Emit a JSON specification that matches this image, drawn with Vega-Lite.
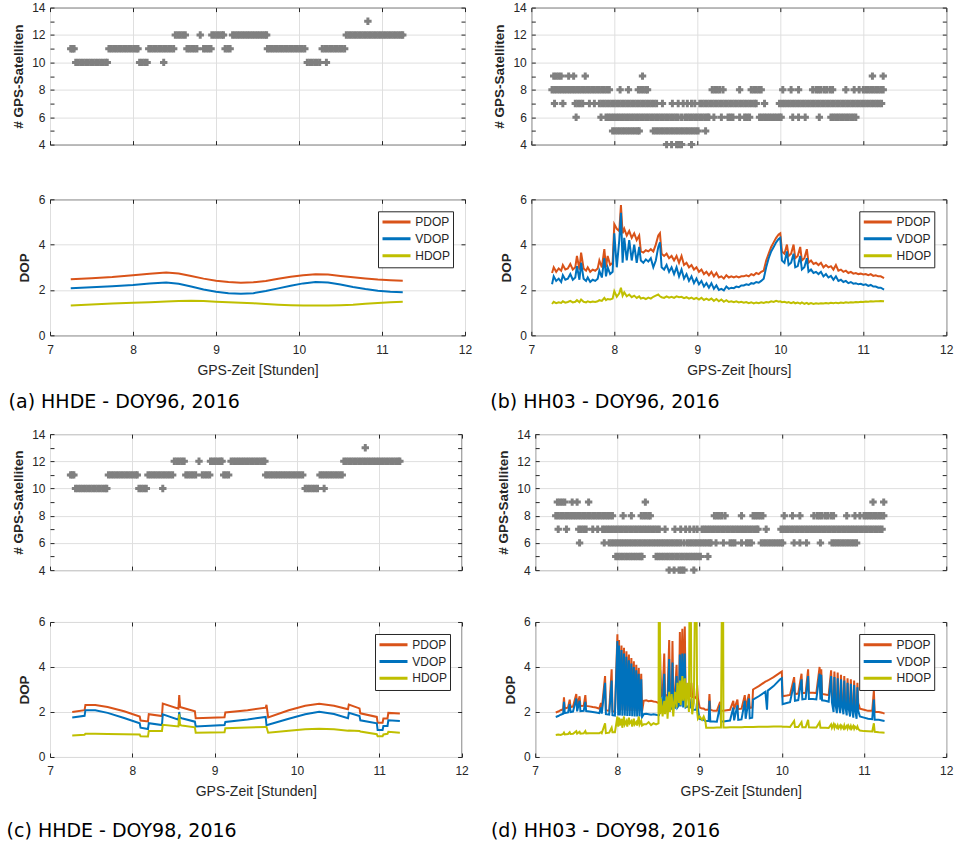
{
"$schema": "https://vega.github.io/schema/vega-lite/v6.json",
"padding": {"left": 6, "top": 0.6, "right": 4, "bottom": 4},
"background": "white",
"config": {
  "font": "Liberation Sans",
  "view": {"stroke": "#262626", "strokeWidth": 1},
  "axis": {"domain": false, "grid": true, "gridColor": "#dfdfdf", "gridWidth": 1, "ticks": true, "tickColor": "#262626", "tickSize": -4, "tickWidth": 1, "labelFont": "Liberation Sans", "labelFontSize": 12, "labelColor": "#262626", "labelFlush": false, "labelOverlap": false, "labelBound": false, "titleFont": "Liberation Sans", "titleColor": "#262626"},
  "axisX": {"labelPadding": 13, "titleFontSize": 14, "titleFontWeight": "normal", "titlePadding": 8},
  "axisY": {"labelPadding": 9, "titleFontSize": 13.5, "titleFontWeight": "bold", "titlePadding": 6.5},
  "legend": {"orient": "top-right", "offset": 12, "title": null, "strokeColor": "#262626", "fillColor": "white", "padding": 3, "cornerRadius": 0, "symbolType": "stroke", "symbolStrokeWidth": 3, "symbolSize": 784, "clipHeight": 15.5, "rowPadding": 0.8, "labelFont": "Liberation Sans", "labelFontSize": 12, "labelColor": "#262626", "labelOffset": 3.3},
  "title": {"font": "DejaVu Sans", "fontSize": 19, "fontWeight": "normal", "color": "#000000", "orient": "bottom", "anchor": "start", "frame": "group"}
},
"datasets": {
"satA": [
{"t":7.25,"n":11},{"t":7.27,"n":11},{"t":7.29,"n":11},
{"t":7.31,"n":10},{"t":7.34,"n":10},{"t":7.37,"n":10},{"t":7.40,"n":10},{"t":7.43,"n":10},{"t":7.46,"n":10},{"t":7.49,"n":10},{"t":7.52,"n":10},{"t":7.55,"n":10},{"t":7.58,"n":10},{"t":7.61,"n":10},{"t":7.64,"n":10},{"t":7.67,"n":10},{"t":7.69,"n":10},
{"t":7.71,"n":11},{"t":7.74,"n":11},{"t":7.77,"n":11},{"t":7.80,"n":11},{"t":7.83,"n":11},{"t":7.86,"n":11},{"t":7.89,"n":11},{"t":7.92,"n":11},{"t":7.95,"n":11},{"t":7.98,"n":11},{"t":8.01,"n":11},{"t":8.04,"n":11},{"t":8.06,"n":11},
{"t":8.08,"n":10},{"t":8.11,"n":10},{"t":8.14,"n":10},{"t":8.17,"n":10},
{"t":8.19,"n":11},{"t":8.22,"n":11},{"t":8.25,"n":11},{"t":8.28,"n":11},{"t":8.31,"n":11},{"t":8.34,"n":11},{"t":8.37,"n":11},{"t":8.40,"n":11},{"t":8.43,"n":11},{"t":8.46,"n":11},{"t":8.49,"n":11},
{"t":8.37,"n":10},
{"t":8.51,"n":12},{"t":8.54,"n":12},{"t":8.57,"n":12},{"t":8.60,"n":12},{"t":8.63,"n":12},
{"t":8.65,"n":11},{"t":8.68,"n":11},{"t":8.71,"n":11},{"t":8.74,"n":11},{"t":8.77,"n":11},
{"t":8.81,"n":12},
{"t":8.85,"n":11},{"t":8.88,"n":11},{"t":8.91,"n":11},{"t":8.94,"n":11},
{"t":8.95,"n":12},{"t":8.98,"n":12},{"t":9.01,"n":12},{"t":9.04,"n":12},{"t":9.07,"n":12},{"t":9.09,"n":12},
{"t":9.11,"n":11},{"t":9.14,"n":11},{"t":9.17,"n":11},
{"t":9.20,"n":12},{"t":9.23,"n":12},{"t":9.26,"n":12},{"t":9.29,"n":12},{"t":9.32,"n":12},{"t":9.35,"n":12},{"t":9.38,"n":12},{"t":9.41,"n":12},{"t":9.44,"n":12},{"t":9.47,"n":12},{"t":9.50,"n":12},{"t":9.53,"n":12},{"t":9.56,"n":12},{"t":9.59,"n":12},{"t":9.61,"n":12},
{"t":9.62,"n":11},{"t":9.65,"n":11},{"t":9.68,"n":11},{"t":9.71,"n":11},{"t":9.74,"n":11},{"t":9.77,"n":11},{"t":9.80,"n":11},{"t":9.83,"n":11},{"t":9.86,"n":11},{"t":9.89,"n":11},{"t":9.92,"n":11},{"t":9.95,"n":11},{"t":9.98,"n":11},{"t":10.01,"n":11},{"t":10.04,"n":11},{"t":10.07,"n":11},
{"t":10.10,"n":10},{"t":10.13,"n":10},{"t":10.16,"n":10},{"t":10.19,"n":10},{"t":10.22,"n":10},{"t":10.25,"n":10},{"t":10.33,"n":10},
{"t":10.28,"n":11},{"t":10.31,"n":11},{"t":10.34,"n":11},{"t":10.37,"n":11},{"t":10.40,"n":11},{"t":10.43,"n":11},{"t":10.46,"n":11},{"t":10.49,"n":11},{"t":10.52,"n":11},{"t":10.55,"n":11},
{"t":10.57,"n":12},{"t":10.60,"n":12},{"t":10.63,"n":12},{"t":10.66,"n":12},{"t":10.69,"n":12},{"t":10.72,"n":12},{"t":10.75,"n":12},{"t":10.78,"n":12},{"t":10.81,"n":12},{"t":10.84,"n":12},{"t":10.87,"n":12},{"t":10.90,"n":12},{"t":10.93,"n":12},{"t":10.96,"n":12},{"t":10.99,"n":12},{"t":11.02,"n":12},{"t":11.05,"n":12},{"t":11.08,"n":12},{"t":11.11,"n":12},{"t":11.14,"n":12},{"t":11.17,"n":12},{"t":11.20,"n":12},{"t":11.23,"n":12},{"t":11.25,"n":12},
{"t":10.83,"n":13}
],
"satB": [
{"t":7.27,"n":9},{"t":7.30,"n":9},{"t":7.33,"n":9},{"t":7.36,"n":9},{"t":7.45,"n":9},{"t":7.51,"n":9},{"t":7.65,"n":9},{"t":8.34,"n":9},{"t":11.11,"n":9},{"t":11.24,"n":9},
{"t":7.25,"n":8},{"t":7.28,"n":8},{"t":7.31,"n":8},{"t":7.34,"n":8},{"t":7.37,"n":8},{"t":7.40,"n":8},{"t":7.43,"n":8},{"t":7.46,"n":8},{"t":7.49,"n":8},{"t":7.52,"n":8},{"t":7.55,"n":8},{"t":7.58,"n":8},{"t":7.61,"n":8},{"t":7.64,"n":8},{"t":7.67,"n":8},{"t":7.70,"n":8},{"t":7.73,"n":8},{"t":7.76,"n":8},{"t":7.79,"n":8},{"t":7.82,"n":8},{"t":7.85,"n":8},{"t":7.88,"n":8},{"t":7.91,"n":8},{"t":7.94,"n":8},
{"t":8.07,"n":8},{"t":8.17,"n":8},{"t":8.29,"n":8},{"t":8.32,"n":8},{"t":8.35,"n":8},{"t":8.38,"n":8},{"t":8.40,"n":8},
{"t":9.18,"n":8},{"t":9.21,"n":8},{"t":9.24,"n":8},{"t":9.27,"n":8},{"t":9.31,"n":8},{"t":9.51,"n":8},{"t":9.65,"n":8},{"t":9.68,"n":8},{"t":9.71,"n":8},{"t":9.74,"n":8},{"t":9.77,"n":8},
{"t":10.03,"n":8},{"t":10.13,"n":8},{"t":10.22,"n":8},{"t":10.39,"n":8},{"t":10.43,"n":8},{"t":10.46,"n":8},{"t":10.49,"n":8},{"t":10.53,"n":8},{"t":10.56,"n":8},{"t":10.60,"n":8},{"t":10.63,"n":8},{"t":10.79,"n":8},{"t":10.89,"n":8},{"t":10.95,"n":8},
{"t":11.00,"n":8},{"t":11.03,"n":8},{"t":11.06,"n":8},{"t":11.09,"n":8},{"t":11.12,"n":8},{"t":11.15,"n":8},{"t":11.18,"n":8},{"t":11.21,"n":8},{"t":11.24,"n":8},
{"t":7.28,"n":7},{"t":7.38,"n":7},{"t":7.53,"n":7},{"t":7.56,"n":7},{"t":7.59,"n":7},{"t":7.62,"n":7},{"t":7.70,"n":7},{"t":7.76,"n":7},
{"t":7.82,"n":7},{"t":7.85,"n":7},{"t":7.88,"n":7},{"t":7.91,"n":7},{"t":7.94,"n":7},{"t":7.97,"n":7},{"t":8.00,"n":7},{"t":8.03,"n":7},{"t":8.06,"n":7},{"t":8.09,"n":7},{"t":8.12,"n":7},{"t":8.15,"n":7},{"t":8.18,"n":7},{"t":8.21,"n":7},{"t":8.24,"n":7},{"t":8.27,"n":7},{"t":8.30,"n":7},{"t":8.33,"n":7},{"t":8.36,"n":7},{"t":8.39,"n":7},{"t":8.42,"n":7},{"t":8.45,"n":7},{"t":8.48,"n":7},{"t":8.51,"n":7},
{"t":8.58,"n":7},{"t":8.70,"n":7},{"t":8.77,"n":7},{"t":8.83,"n":7},{"t":8.88,"n":7},{"t":8.93,"n":7},{"t":8.97,"n":7},
{"t":9.03,"n":7},{"t":9.06,"n":7},{"t":9.09,"n":7},{"t":9.12,"n":7},{"t":9.15,"n":7},{"t":9.18,"n":7},{"t":9.21,"n":7},{"t":9.24,"n":7},{"t":9.27,"n":7},{"t":9.30,"n":7},{"t":9.33,"n":7},{"t":9.36,"n":7},{"t":9.39,"n":7},{"t":9.42,"n":7},{"t":9.45,"n":7},{"t":9.48,"n":7},{"t":9.51,"n":7},{"t":9.54,"n":7},{"t":9.57,"n":7},{"t":9.60,"n":7},{"t":9.63,"n":7},{"t":9.66,"n":7},{"t":9.69,"n":7},{"t":9.71,"n":7},{"t":9.81,"n":7},
{"t":9.99,"n":7},{"t":10.02,"n":7},{"t":10.05,"n":7},{"t":10.08,"n":7},{"t":10.11,"n":7},{"t":10.14,"n":7},{"t":10.17,"n":7},{"t":10.20,"n":7},{"t":10.23,"n":7},{"t":10.26,"n":7},{"t":10.29,"n":7},{"t":10.32,"n":7},{"t":10.35,"n":7},{"t":10.38,"n":7},{"t":10.41,"n":7},{"t":10.44,"n":7},{"t":10.47,"n":7},{"t":10.50,"n":7},{"t":10.53,"n":7},{"t":10.56,"n":7},{"t":10.59,"n":7},{"t":10.62,"n":7},{"t":10.65,"n":7},{"t":10.68,"n":7},{"t":10.71,"n":7},{"t":10.74,"n":7},{"t":10.77,"n":7},{"t":10.80,"n":7},{"t":10.83,"n":7},{"t":10.86,"n":7},{"t":10.89,"n":7},{"t":10.92,"n":7},{"t":10.95,"n":7},{"t":10.98,"n":7},{"t":11.01,"n":7},{"t":11.04,"n":7},{"t":11.07,"n":7},{"t":11.10,"n":7},{"t":11.13,"n":7},{"t":11.16,"n":7},{"t":11.19,"n":7},{"t":11.22,"n":7},
{"t":7.54,"n":6},{"t":7.84,"n":6},
{"t":7.90,"n":6},{"t":7.93,"n":6},{"t":7.96,"n":6},{"t":7.99,"n":6},{"t":8.02,"n":6},{"t":8.05,"n":6},{"t":8.08,"n":6},{"t":8.11,"n":6},{"t":8.14,"n":6},{"t":8.17,"n":6},{"t":8.20,"n":6},{"t":8.23,"n":6},{"t":8.26,"n":6},{"t":8.29,"n":6},{"t":8.32,"n":6},{"t":8.35,"n":6},{"t":8.38,"n":6},{"t":8.41,"n":6},{"t":8.44,"n":6},{"t":8.47,"n":6},{"t":8.50,"n":6},{"t":8.53,"n":6},{"t":8.56,"n":6},{"t":8.59,"n":6},{"t":8.62,"n":6},{"t":8.65,"n":6},{"t":8.68,"n":6},{"t":8.71,"n":6},{"t":8.74,"n":6},{"t":8.77,"n":6},
{"t":8.81,"n":6},{"t":8.85,"n":6},{"t":8.88,"n":6},{"t":8.91,"n":6},{"t":8.94,"n":6},{"t":8.97,"n":6},{"t":9.00,"n":6},{"t":9.03,"n":6},{"t":9.06,"n":6},{"t":9.09,"n":6},{"t":9.12,"n":6},{"t":9.14,"n":6},
{"t":9.20,"n":6},{"t":9.29,"n":6},{"t":9.37,"n":6},{"t":9.40,"n":6},{"t":9.43,"n":6},{"t":9.51,"n":6},{"t":9.57,"n":6},{"t":9.60,"n":6},{"t":9.63,"n":6},
{"t":9.75,"n":6},{"t":9.78,"n":6},{"t":9.81,"n":6},{"t":9.84,"n":6},{"t":9.87,"n":6},{"t":9.90,"n":6},{"t":9.93,"n":6},{"t":9.96,"n":6},{"t":9.99,"n":6},{"t":10.01,"n":6},
{"t":10.15,"n":6},{"t":10.22,"n":6},{"t":10.30,"n":6},{"t":10.47,"n":6},
{"t":10.61,"n":6},{"t":10.64,"n":6},{"t":10.67,"n":6},{"t":10.70,"n":6},{"t":10.73,"n":6},{"t":10.76,"n":6},{"t":10.79,"n":6},{"t":10.82,"n":6},{"t":10.85,"n":6},{"t":10.88,"n":6},{"t":10.91,"n":6},
{"t":7.98,"n":5},{"t":8.01,"n":5},{"t":8.04,"n":5},{"t":8.07,"n":5},{"t":8.10,"n":5},{"t":8.13,"n":5},{"t":8.16,"n":5},{"t":8.19,"n":5},{"t":8.22,"n":5},{"t":8.25,"n":5},{"t":8.28,"n":5},{"t":8.30,"n":5},
{"t":8.47,"n":5},{"t":8.50,"n":5},{"t":8.53,"n":5},{"t":8.56,"n":5},{"t":8.59,"n":5},{"t":8.62,"n":5},{"t":8.65,"n":5},{"t":8.68,"n":5},{"t":8.71,"n":5},{"t":8.74,"n":5},{"t":8.77,"n":5},{"t":8.80,"n":5},{"t":8.83,"n":5},{"t":8.86,"n":5},{"t":8.89,"n":5},{"t":8.92,"n":5},{"t":8.95,"n":5},{"t":8.98,"n":5},{"t":9.01,"n":5},{"t":9.10,"n":5},
{"t":8.63,"n":4},{"t":8.69,"n":4},{"t":8.75,"n":4},{"t":8.78,"n":4},{"t":8.81,"n":4},{"t":8.93,"n":4}
],
"dopA": [
{"t":7.25,"PDOP":2.47,"VDOP":2.08,"HDOP":1.32},
{"t":7.5,"PDOP":2.52,"VDOP":2.12,"HDOP":1.36},
{"t":7.75,"PDOP":2.57,"VDOP":2.16,"HDOP":1.40},
{"t":8.0,"PDOP":2.65,"VDOP":2.22,"HDOP":1.44},
{"t":8.2,"PDOP":2.72,"VDOP":2.29,"HDOP":1.46},
{"t":8.4,"PDOP":2.77,"VDOP":2.33,"HDOP":1.49},
{"t":8.55,"PDOP":2.73,"VDOP":2.27,"HDOP":1.51},
{"t":8.7,"PDOP":2.62,"VDOP":2.15,"HDOP":1.52},
{"t":8.85,"PDOP":2.50,"VDOP":2.02,"HDOP":1.51},
{"t":9.0,"PDOP":2.41,"VDOP":1.92,"HDOP":1.48},
{"t":9.15,"PDOP":2.35,"VDOP":1.86,"HDOP":1.46},
{"t":9.3,"PDOP":2.32,"VDOP":1.83,"HDOP":1.44},
{"t":9.45,"PDOP":2.34,"VDOP":1.86,"HDOP":1.41},
{"t":9.6,"PDOP":2.40,"VDOP":1.95,"HDOP":1.38},
{"t":9.75,"PDOP":2.49,"VDOP":2.07,"HDOP":1.35},
{"t":9.9,"PDOP":2.58,"VDOP":2.19,"HDOP":1.33},
{"t":10.05,"PDOP":2.65,"VDOP":2.29,"HDOP":1.32},
{"t":10.2,"PDOP":2.69,"VDOP":2.35,"HDOP":1.31},
{"t":10.35,"PDOP":2.68,"VDOP":2.33,"HDOP":1.31},
{"t":10.5,"PDOP":2.62,"VDOP":2.24,"HDOP":1.33},
{"t":10.65,"PDOP":2.56,"VDOP":2.13,"HDOP":1.35},
{"t":10.8,"PDOP":2.51,"VDOP":2.04,"HDOP":1.39},
{"t":10.95,"PDOP":2.46,"VDOP":1.97,"HDOP":1.43},
{"t":11.1,"PDOP":2.43,"VDOP":1.92,"HDOP":1.46},
{"t":11.25,"PDOP":2.41,"VDOP":1.90,"HDOP":1.48}
],
"dopB": [
{"t":7.25,"PDOP":2.75,"VDOP":2.25,"HDOP":1.38},{"t":7.27,"PDOP":3.0,"VDOP":2.6,"HDOP":1.48},{"t":7.30,"PDOP":2.8,"VDOP":2.4,"HDOP":1.42},{"t":7.33,"PDOP":2.95,"VDOP":2.5,"HDOP":1.46},{"t":7.36,"PDOP":2.85,"VDOP":2.35,"HDOP":1.43},{"t":7.38,"PDOP":3.1,"VDOP":2.65,"HDOP":1.5},{"t":7.41,"PDOP":2.9,"VDOP":2.45,"HDOP":1.44},{"t":7.44,"PDOP":2.95,"VDOP":2.5,"HDOP":1.47},{"t":7.47,"PDOP":3.15,"VDOP":2.7,"HDOP":1.52},{"t":7.50,"PDOP":2.9,"VDOP":2.45,"HDOP":1.45},{"t":7.53,"PDOP":3.0,"VDOP":2.55,"HDOP":1.48},{"t":7.55,"PDOP":3.5,"VDOP":3.05,"HDOP":1.55},{"t":7.58,"PDOP":2.9,"VDOP":2.45,"HDOP":1.46},{"t":7.60,"PDOP":3.65,"VDOP":3.2,"HDOP":1.58},{"t":7.63,"PDOP":2.95,"VDOP":2.5,"HDOP":1.48},{"t":7.66,"PDOP":2.85,"VDOP":2.4,"HDOP":1.45},{"t":7.68,"PDOP":3.0,"VDOP":2.55,"HDOP":1.5},{"t":7.71,"PDOP":2.8,"VDOP":2.35,"HDOP":1.46},{"t":7.74,"PDOP":2.9,"VDOP":2.45,"HDOP":1.49},{"t":7.77,"PDOP":2.85,"VDOP":2.4,"HDOP":1.47},{"t":7.80,"PDOP":2.95,"VDOP":2.5,"HDOP":1.5},{"t":7.82,"PDOP":3.3,"VDOP":2.85,"HDOP":1.55},{"t":7.85,"PDOP":3.0,"VDOP":2.55,"HDOP":1.52},{"t":7.88,"PDOP":3.8,"VDOP":3.4,"HDOP":1.65},{"t":7.90,"PDOP":3.0,"VDOP":2.6,"HDOP":1.55},{"t":7.92,"PDOP":3.5,"VDOP":3.0,"HDOP":1.6},{"t":7.95,"PDOP":3.1,"VDOP":2.7,"HDOP":1.58},{"t":7.98,"PDOP":3.2,"VDOP":2.8,"HDOP":1.62},
{"t":8.00,"PDOP":4.9,"VDOP":4.5,"HDOP":1.95},{"t":8.03,"PDOP":4.7,"VDOP":3.0,"HDOP":1.7},{"t":8.06,"PDOP":4.6,"VDOP":4.2,"HDOP":1.85},{"t":8.08,"PDOP":5.75,"VDOP":5.4,"HDOP":2.1},{"t":8.10,"PDOP":4.5,"VDOP":3.2,"HDOP":1.75},{"t":8.12,"PDOP":4.7,"VDOP":4.3,"HDOP":1.9},{"t":8.15,"PDOP":4.4,"VDOP":3.3,"HDOP":1.72},{"t":8.18,"PDOP":4.6,"VDOP":4.2,"HDOP":1.8},{"t":8.21,"PDOP":4.3,"VDOP":3.3,"HDOP":1.68},{"t":8.24,"PDOP":4.5,"VDOP":4.0,"HDOP":1.75},{"t":8.27,"PDOP":4.2,"VDOP":3.2,"HDOP":1.65},{"t":8.30,"PDOP":4.4,"VDOP":3.9,"HDOP":1.72},{"t":8.32,"PDOP":3.7,"VDOP":3.3,"HDOP":1.62},{"t":8.35,"PDOP":3.65,"VDOP":3.2,"HDOP":1.65},{"t":8.38,"PDOP":3.75,"VDOP":3.35,"HDOP":1.6},{"t":8.41,"PDOP":3.7,"VDOP":3.25,"HDOP":1.66},{"t":8.44,"PDOP":3.8,"VDOP":3.4,"HDOP":1.62},{"t":8.47,"PDOP":3.7,"VDOP":3.0,"HDOP":1.7},{"t":8.50,"PDOP":4.0,"VDOP":3.3,"HDOP":1.75},{"t":8.53,"PDOP":4.4,"VDOP":3.9,"HDOP":1.8},{"t":8.55,"PDOP":4.5,"VDOP":4.1,"HDOP":1.72},{"t":8.57,"PDOP":3.6,"VDOP":3.0,"HDOP":1.68},{"t":8.60,"PDOP":3.5,"VDOP":2.9,"HDOP":1.65},{"t":8.63,"PDOP":3.6,"VDOP":3.1,"HDOP":1.72},{"t":8.66,"PDOP":3.4,"VDOP":2.8,"HDOP":1.66},{"t":8.69,"PDOP":3.5,"VDOP":3.0,"HDOP":1.7},{"t":8.72,"PDOP":3.3,"VDOP":2.7,"HDOP":1.65},{"t":8.75,"PDOP":3.5,"VDOP":3.0,"HDOP":1.72},{"t":8.78,"PDOP":3.2,"VDOP":2.6,"HDOP":1.68},{"t":8.81,"PDOP":3.5,"VDOP":2.9,"HDOP":1.7},{"t":8.84,"PDOP":3.1,"VDOP":2.5,"HDOP":1.64},{"t":8.87,"PDOP":3.2,"VDOP":2.7,"HDOP":1.68},{"t":8.90,"PDOP":3.0,"VDOP":2.4,"HDOP":1.62},{"t":8.93,"PDOP":3.1,"VDOP":2.6,"HDOP":1.66},{"t":8.96,"PDOP":2.9,"VDOP":2.3,"HDOP":1.6},{"t":8.99,"PDOP":3.0,"VDOP":2.5,"HDOP":1.65},
{"t":9.02,"PDOP":2.8,"VDOP":2.25,"HDOP":1.58},{"t":9.05,"PDOP":2.9,"VDOP":2.4,"HDOP":1.66},{"t":9.08,"PDOP":2.7,"VDOP":2.15,"HDOP":1.56},{"t":9.11,"PDOP":2.8,"VDOP":2.3,"HDOP":1.62},{"t":9.14,"PDOP":2.65,"VDOP":2.1,"HDOP":1.55},{"t":9.17,"PDOP":2.8,"VDOP":2.3,"HDOP":1.62},{"t":9.20,"PDOP":2.6,"VDOP":2.05,"HDOP":1.52},{"t":9.23,"PDOP":2.75,"VDOP":2.2,"HDOP":1.6},{"t":9.26,"PDOP":2.55,"VDOP":2.0,"HDOP":1.5},{"t":9.29,"PDOP":2.6,"VDOP":2.05,"HDOP":1.58},{"t":9.32,"PDOP":2.5,"VDOP":1.98,"HDOP":1.48},{"t":9.35,"PDOP":2.65,"VDOP":2.15,"HDOP":1.55},{"t":9.38,"PDOP":2.55,"VDOP":2.05,"HDOP":1.47},{"t":9.41,"PDOP":2.6,"VDOP":2.1,"HDOP":1.5},{"t":9.44,"PDOP":2.55,"VDOP":2.08,"HDOP":1.46},{"t":9.47,"PDOP":2.6,"VDOP":2.15,"HDOP":1.5},{"t":9.50,"PDOP":2.55,"VDOP":2.12,"HDOP":1.45},{"t":9.53,"PDOP":2.6,"VDOP":2.2,"HDOP":1.48},{"t":9.56,"PDOP":2.6,"VDOP":2.2,"HDOP":1.44},{"t":9.59,"PDOP":2.65,"VDOP":2.25,"HDOP":1.47},{"t":9.62,"PDOP":2.6,"VDOP":2.22,"HDOP":1.42},{"t":9.65,"PDOP":2.7,"VDOP":2.3,"HDOP":1.46},{"t":9.68,"PDOP":2.65,"VDOP":2.28,"HDOP":1.41},{"t":9.71,"PDOP":2.75,"VDOP":2.35,"HDOP":1.45},{"t":9.74,"PDOP":2.7,"VDOP":2.32,"HDOP":1.42},{"t":9.77,"PDOP":2.8,"VDOP":2.4,"HDOP":1.46},{"t":9.80,"PDOP":2.85,"VDOP":2.5,"HDOP":1.43},{"t":9.83,"PDOP":3.3,"VDOP":3.0,"HDOP":1.47},{"t":9.86,"PDOP":3.6,"VDOP":3.4,"HDOP":1.45},{"t":9.89,"PDOP":3.9,"VDOP":3.7,"HDOP":1.5},{"t":9.92,"PDOP":4.1,"VDOP":3.9,"HDOP":1.47},{"t":9.95,"PDOP":4.3,"VDOP":4.1,"HDOP":1.52},{"t":9.98,"PDOP":4.45,"VDOP":4.25,"HDOP":1.48},
{"t":10.00,"PDOP":4.5,"VDOP":4.3,"HDOP":1.5},{"t":10.02,"PDOP":3.7,"VDOP":3.3,"HDOP":1.46},{"t":10.05,"PDOP":3.6,"VDOP":3.2,"HDOP":1.48},{"t":10.08,"PDOP":4.0,"VDOP":3.7,"HDOP":1.44},{"t":10.10,"PDOP":3.5,"VDOP":3.1,"HDOP":1.47},{"t":10.13,"PDOP":3.6,"VDOP":3.2,"HDOP":1.42},{"t":10.16,"PDOP":4.0,"VDOP":3.6,"HDOP":1.46},{"t":10.18,"PDOP":3.4,"VDOP":3.0,"HDOP":1.41},{"t":10.21,"PDOP":3.5,"VDOP":3.05,"HDOP":1.44},{"t":10.24,"PDOP":3.9,"VDOP":3.5,"HDOP":1.4},{"t":10.26,"PDOP":3.3,"VDOP":2.9,"HDOP":1.45},{"t":10.29,"PDOP":3.4,"VDOP":3.0,"HDOP":1.39},{"t":10.32,"PDOP":3.8,"VDOP":3.4,"HDOP":1.43},{"t":10.34,"PDOP":3.2,"VDOP":2.8,"HDOP":1.38},{"t":10.37,"PDOP":3.3,"VDOP":2.9,"HDOP":1.42},{"t":10.40,"PDOP":3.15,"VDOP":2.75,"HDOP":1.38},{"t":10.43,"PDOP":3.2,"VDOP":2.8,"HDOP":1.41},{"t":10.46,"PDOP":3.1,"VDOP":2.7,"HDOP":1.39},{"t":10.49,"PDOP":3.2,"VDOP":2.8,"HDOP":1.41},{"t":10.52,"PDOP":3.0,"VDOP":2.6,"HDOP":1.4},{"t":10.55,"PDOP":3.1,"VDOP":2.7,"HDOP":1.42},{"t":10.58,"PDOP":3.0,"VDOP":2.55,"HDOP":1.4},{"t":10.61,"PDOP":3.05,"VDOP":2.62,"HDOP":1.43},{"t":10.64,"PDOP":2.9,"VDOP":2.45,"HDOP":1.41},{"t":10.67,"PDOP":3.1,"VDOP":2.6,"HDOP":1.44},{"t":10.70,"PDOP":2.85,"VDOP":2.4,"HDOP":1.42},{"t":10.73,"PDOP":2.9,"VDOP":2.45,"HDOP":1.45},{"t":10.76,"PDOP":2.8,"VDOP":2.35,"HDOP":1.43},{"t":10.79,"PDOP":2.85,"VDOP":2.4,"HDOP":1.46},{"t":10.82,"PDOP":2.75,"VDOP":2.3,"HDOP":1.44},{"t":10.85,"PDOP":2.8,"VDOP":2.35,"HDOP":1.46},{"t":10.88,"PDOP":2.72,"VDOP":2.28,"HDOP":1.45},{"t":10.91,"PDOP":2.75,"VDOP":2.3,"HDOP":1.47},{"t":10.94,"PDOP":2.7,"VDOP":2.25,"HDOP":1.46},{"t":10.97,"PDOP":2.72,"VDOP":2.27,"HDOP":1.48},
{"t":11.00,"PDOP":2.68,"VDOP":2.22,"HDOP":1.47},{"t":11.03,"PDOP":2.7,"VDOP":2.25,"HDOP":1.49},{"t":11.06,"PDOP":2.65,"VDOP":2.18,"HDOP":1.48},{"t":11.09,"PDOP":2.7,"VDOP":2.22,"HDOP":1.5},{"t":11.12,"PDOP":2.62,"VDOP":2.15,"HDOP":1.49},{"t":11.15,"PDOP":2.65,"VDOP":2.15,"HDOP":1.5},{"t":11.18,"PDOP":2.6,"VDOP":2.1,"HDOP":1.5},{"t":11.21,"PDOP":2.6,"VDOP":2.1,"HDOP":1.51},{"t":11.25,"PDOP":2.52,"VDOP":2.02,"HDOP":1.5}
],
"dopC": [
{"t":7.27,"PDOP":2.00,"VDOP":1.76,"HDOP":0.96},
{"t":7.42,"PDOP":2.08,"VDOP":1.83,"HDOP":0.99},
{"t":7.43,"PDOP":2.31,"VDOP":2.08,"HDOP":1.03},
{"t":7.55,"PDOP":2.31,"VDOP":2.08,"HDOP":1.03},
{"t":7.7,"PDOP":2.22,"VDOP":1.96,"HDOP":1.02},
{"t":7.9,"PDOP":2.03,"VDOP":1.73,"HDOP":1.01},
{"t":8.09,"PDOP":1.80,"VDOP":1.50,"HDOP":1.00},
{"t":8.10,"PDOP":1.62,"VDOP":1.30,"HDOP":0.92},
{"t":8.19,"PDOP":1.58,"VDOP":1.24,"HDOP":0.91},
{"t":8.20,"PDOP":1.90,"VDOP":1.50,"HDOP":1.16},
{"t":8.36,"PDOP":1.82,"VDOP":1.42,"HDOP":1.16},
{"t":8.37,"PDOP":2.37,"VDOP":1.90,"HDOP":1.43},
{"t":8.56,"PDOP":2.15,"VDOP":1.66,"HDOP":1.36},
{"t":8.57,"PDOP":2.75,"VDOP":2.00,"HDOP":1.90},
{"t":8.58,"PDOP":2.22,"VDOP":1.75,"HDOP":1.42},
{"t":8.6,"PDOP":2.20,"VDOP":1.72,"HDOP":1.40},
{"t":8.76,"PDOP":2.03,"VDOP":1.57,"HDOP":1.32},
{"t":8.77,"PDOP":1.72,"VDOP":1.36,"HDOP":1.08},
{"t":9.12,"PDOP":1.77,"VDOP":1.42,"HDOP":1.10},
{"t":9.13,"PDOP":1.98,"VDOP":1.56,"HDOP":1.28},
{"t":9.4,"PDOP":2.08,"VDOP":1.67,"HDOP":1.31},
{"t":9.62,"PDOP":2.19,"VDOP":1.78,"HDOP":1.33},
{"t":9.63,"PDOP":2.32,"VDOP":1.42,"HDOP":1.33},
{"t":9.65,"PDOP":1.76,"VDOP":1.43,"HDOP":1.08},
{"t":9.9,"PDOP":2.08,"VDOP":1.70,"HDOP":1.17},
{"t":10.1,"PDOP":2.28,"VDOP":1.90,"HDOP":1.23},
{"t":10.27,"PDOP":2.37,"VDOP":2.01,"HDOP":1.26},
{"t":10.45,"PDOP":2.28,"VDOP":1.91,"HDOP":1.23},
{"t":10.62,"PDOP":2.12,"VDOP":1.72,"HDOP":1.17},
{"t":10.63,"PDOP":2.33,"VDOP":1.96,"HDOP":1.18},
{"t":10.76,"PDOP":2.16,"VDOP":1.82,"HDOP":1.16},
{"t":10.77,"PDOP":1.94,"VDOP":1.63,"HDOP":1.13},
{"t":10.97,"PDOP":1.78,"VDOP":1.50,"HDOP":1.01},
{"t":10.98,"PDOP":1.52,"VDOP":1.20,"HDOP":0.92},
{"t":11.04,"PDOP":1.52,"VDOP":1.20,"HDOP":0.92},
{"t":11.05,"PDOP":1.71,"VDOP":1.38,"HDOP":1.00},
{"t":11.10,"PDOP":1.71,"VDOP":1.38,"HDOP":1.03},
{"t":11.11,"PDOP":1.96,"VDOP":1.63,"HDOP":1.12},
{"t":11.25,"PDOP":1.93,"VDOP":1.60,"HDOP":1.08}
],
"dopD": [
{"t":7.25,"PDOP":1.98,"VDOP":1.78,"HDOP":0.98},{"t":7.28,"PDOP":2.02,"VDOP":1.82,"HDOP":1.0},{"t":7.31,"PDOP":2.08,"VDOP":1.88,"HDOP":0.98},{"t":7.34,"PDOP":2.12,"VDOP":1.92,"HDOP":1.02},{"t":7.35,"PDOP":2.65,"VDOP":2.45,"HDOP":1.08},{"t":7.36,"PDOP":2.15,"VDOP":1.95,"HDOP":1.0},{"t":7.40,"PDOP":2.2,"VDOP":1.98,"HDOP":1.02},{"t":7.42,"PDOP":2.55,"VDOP":2.35,"HDOP":1.1},{"t":7.43,"PDOP":2.22,"VDOP":2.0,"HDOP":1.02},{"t":7.46,"PDOP":2.24,"VDOP":2.02,"HDOP":1.03},{"t":7.50,"PDOP":2.8,"VDOP":2.6,"HDOP":1.15},{"t":7.51,"PDOP":2.26,"VDOP":2.03,"HDOP":1.04},{"t":7.54,"PDOP":2.7,"VDOP":2.5,"HDOP":1.12},{"t":7.55,"PDOP":2.27,"VDOP":2.04,"HDOP":1.04},{"t":7.59,"PDOP":2.28,"VDOP":2.05,"HDOP":1.05},{"t":7.61,"PDOP":2.75,"VDOP":2.45,"HDOP":1.15},{"t":7.62,"PDOP":2.27,"VDOP":2.04,"HDOP":1.05},{"t":7.66,"PDOP":2.25,"VDOP":2.02,"HDOP":1.06},{"t":7.70,"PDOP":2.22,"VDOP":2.0,"HDOP":1.05},{"t":7.74,"PDOP":2.2,"VDOP":1.98,"HDOP":1.06},{"t":7.78,"PDOP":2.15,"VDOP":1.95,"HDOP":1.06},{"t":7.80,"PDOP":2.4,"VDOP":2.2,"HDOP":1.1},{"t":7.81,"PDOP":2.12,"VDOP":1.93,"HDOP":1.06},{"t":7.85,"PDOP":3.6,"VDOP":3.3,"HDOP":1.5},{"t":7.86,"PDOP":2.08,"VDOP":1.9,"HDOP":1.06},{"t":7.90,"PDOP":2.05,"VDOP":1.88,"HDOP":1.08},{"t":7.93,"PDOP":3.9,"VDOP":3.4,"HDOP":1.3},{"t":7.94,"PDOP":2.03,"VDOP":1.86,"HDOP":1.1},{"t":7.97,"PDOP":2.0,"VDOP":1.84,"HDOP":1.1},
{"t":8.00,"PDOP":5.45,"VDOP":5.15,"HDOP":1.8},{"t":8.01,"PDOP":2.1,"VDOP":1.85,"HDOP":1.35},{"t":8.02,"PDOP":5.2,"VDOP":4.95,"HDOP":1.75},{"t":8.03,"PDOP":2.1,"VDOP":1.85,"HDOP":1.4},{"t":8.05,"PDOP":4.95,"VDOP":4.75,"HDOP":1.7},{"t":8.06,"PDOP":2.08,"VDOP":1.83,"HDOP":1.3},{"t":8.08,"PDOP":4.85,"VDOP":4.6,"HDOP":1.8},{"t":8.09,"PDOP":2.08,"VDOP":1.83,"HDOP":1.45},{"t":8.11,"PDOP":4.7,"VDOP":4.45,"HDOP":1.6},{"t":8.12,"PDOP":2.06,"VDOP":1.82,"HDOP":1.35},{"t":8.14,"PDOP":4.55,"VDOP":4.3,"HDOP":1.75},{"t":8.15,"PDOP":2.05,"VDOP":1.82,"HDOP":1.5},{"t":8.17,"PDOP":4.4,"VDOP":4.15,"HDOP":1.6},{"t":8.18,"PDOP":2.05,"VDOP":1.81,"HDOP":1.35},{"t":8.20,"PDOP":4.25,"VDOP":4.0,"HDOP":1.7},{"t":8.21,"PDOP":2.04,"VDOP":1.8,"HDOP":1.45},{"t":8.23,"PDOP":4.1,"VDOP":3.85,"HDOP":1.55},{"t":8.24,"PDOP":2.04,"VDOP":1.8,"HDOP":1.4},{"t":8.26,"PDOP":3.95,"VDOP":3.7,"HDOP":1.8},{"t":8.27,"PDOP":2.03,"VDOP":1.8,"HDOP":1.45},{"t":8.29,"PDOP":3.7,"VDOP":3.45,"HDOP":1.6},{"t":8.30,"PDOP":2.03,"VDOP":1.78,"HDOP":1.4},
{"t":8.32,"PDOP":2.5,"VDOP":1.9,"HDOP":1.45},{"t":8.35,"PDOP":2.52,"VDOP":1.92,"HDOP":1.45},{"t":8.38,"PDOP":2.48,"VDOP":1.9,"HDOP":1.55},{"t":8.41,"PDOP":2.5,"VDOP":1.88,"HDOP":1.42},{"t":8.44,"PDOP":2.47,"VDOP":1.9,"HDOP":1.5},{"t":8.47,"PDOP":2.45,"VDOP":1.88,"HDOP":1.45},{"t":8.50,"PDOP":2.4,"VDOP":1.85,"HDOP":1.5},{"t":8.505,"PDOP":2.4,"VDOP":1.85,"HDOP":9},{"t":8.515,"PDOP":2.7,"VDOP":2.1,"HDOP":9},
{"t":8.52,"PDOP":4.6,"VDOP":3.85,"HDOP":1.9},{"t":8.53,"PDOP":2.7,"VDOP":2.2,"HDOP":2.6},{"t":8.55,"PDOP":2.75,"VDOP":2.15,"HDOP":1.8},{"t":8.57,"PDOP":4.6,"VDOP":3.7,"HDOP":2.5},{"t":8.58,"PDOP":2.7,"VDOP":2.2,"HDOP":1.9},{"t":8.60,"PDOP":2.75,"VDOP":2.25,"HDOP":2.7},{"t":8.61,"PDOP":2.6,"VDOP":2.1,"HDOP":1.7},{"t":8.63,"PDOP":5.2,"VDOP":4.35,"HDOP":2.9},{"t":8.64,"PDOP":2.75,"VDOP":2.2,"HDOP":2.0},{"t":8.66,"PDOP":2.7,"VDOP":2.15,"HDOP":2.8},{"t":8.67,"PDOP":5.15,"VDOP":4.2,"HDOP":2.3},{"t":8.68,"PDOP":2.75,"VDOP":2.25,"HDOP":1.8},{"t":8.70,"PDOP":2.8,"VDOP":2.2,"HDOP":2.9},{"t":8.72,"PDOP":4.1,"VDOP":3.6,"HDOP":2.2},{"t":8.73,"PDOP":2.75,"VDOP":2.2,"HDOP":3.3},{"t":8.75,"PDOP":2.8,"VDOP":2.3,"HDOP":2.4},{"t":8.76,"PDOP":5.55,"VDOP":4.55,"HDOP":3.4},{"t":8.77,"PDOP":2.8,"VDOP":2.25,"HDOP":2.3},{"t":8.79,"PDOP":5.7,"VDOP":4.6,"HDOP":3.6},{"t":8.80,"PDOP":2.75,"VDOP":2.2,"HDOP":2.5},{"t":8.82,"PDOP":5.8,"VDOP":4.6,"HDOP":3.5},{"t":8.83,"PDOP":2.7,"VDOP":2.2,"HDOP":2.2},{"t":8.85,"PDOP":2.75,"VDOP":2.25,"HDOP":3.3},{"t":8.87,"PDOP":2.7,"VDOP":2.2,"HDOP":2.0},{"t":8.88,"PDOP":2.7,"VDOP":2.2,"HDOP":9},{"t":8.89,"PDOP":2.7,"VDOP":2.2,"HDOP":9},{"t":8.90,"PDOP":3.3,"VDOP":2.6,"HDOP":2.6},{"t":8.91,"PDOP":2.65,"VDOP":2.15,"HDOP":1.9},{"t":8.93,"PDOP":2.65,"VDOP":2.1,"HDOP":2.4},{"t":8.95,"PDOP":2.65,"VDOP":2.1,"HDOP":9},{"t":8.96,"PDOP":2.6,"VDOP":2.1,"HDOP":9},{"t":8.97,"PDOP":3.2,"VDOP":2.5,"HDOP":2.0},{"t":8.98,"PDOP":2.6,"VDOP":2.1,"HDOP":1.7},
{"t":9.00,"PDOP":2.2,"VDOP":1.7,"HDOP":1.8},{"t":9.03,"PDOP":2.15,"VDOP":1.65,"HDOP":1.65},{"t":9.05,"PDOP":2.15,"VDOP":1.65,"HDOP":1.8},{"t":9.07,"PDOP":2.1,"VDOP":1.6,"HDOP":1.6},{"t":9.08,"PDOP":2.1,"VDOP":1.6,"HDOP":1.3},{"t":9.11,"PDOP":2.1,"VDOP":1.6,"HDOP":1.3},{"t":9.12,"PDOP":2.8,"VDOP":2.5,"HDOP":1.3},{"t":9.13,"PDOP":2.1,"VDOP":1.58,"HDOP":1.3},{"t":9.17,"PDOP":2.05,"VDOP":1.58,"HDOP":1.3},{"t":9.21,"PDOP":2.05,"VDOP":1.57,"HDOP":1.31},{"t":9.25,"PDOP":2.45,"VDOP":2.3,"HDOP":1.31},{"t":9.26,"PDOP":2.05,"VDOP":1.57,"HDOP":1.31},{"t":9.275,"PDOP":2.06,"VDOP":1.58,"HDOP":9},{"t":9.285,"PDOP":2.06,"VDOP":1.58,"HDOP":9},{"t":9.29,"PDOP":2.06,"VDOP":1.58,"HDOP":1.31},{"t":9.33,"PDOP":2.08,"VDOP":1.6,"HDOP":1.31},{"t":9.37,"PDOP":2.1,"VDOP":1.62,"HDOP":1.32},{"t":9.41,"PDOP":2.5,"VDOP":2.2,"HDOP":1.32},{"t":9.42,"PDOP":2.12,"VDOP":1.63,"HDOP":1.32},{"t":9.46,"PDOP":2.55,"VDOP":2.3,"HDOP":1.32},{"t":9.47,"PDOP":2.13,"VDOP":1.65,"HDOP":1.32},{"t":9.51,"PDOP":2.15,"VDOP":1.67,"HDOP":1.32},{"t":9.55,"PDOP":2.75,"VDOP":2.5,"HDOP":1.33},{"t":9.56,"PDOP":2.16,"VDOP":1.7,"HDOP":1.33},{"t":9.60,"PDOP":2.8,"VDOP":2.6,"HDOP":1.33},{"t":9.61,"PDOP":2.18,"VDOP":1.72,"HDOP":1.33},{"t":9.64,"PDOP":2.2,"VDOP":1.75,"HDOP":1.33},{"t":9.65,"PDOP":3.0,"VDOP":2.55,"HDOP":1.33},{"t":9.72,"PDOP":3.15,"VDOP":2.7,"HDOP":1.34},{"t":9.80,"PDOP":3.35,"VDOP":2.9,"HDOP":1.34},{"t":9.82,"PDOP":3.38,"VDOP":2.1,"HDOP":1.34},{"t":9.83,"PDOP":3.4,"VDOP":2.95,"HDOP":1.34},{"t":9.90,"PDOP":3.55,"VDOP":3.15,"HDOP":1.35},{"t":9.98,"PDOP":3.75,"VDOP":3.45,"HDOP":1.35},
{"t":10.00,"PDOP":3.8,"VDOP":3.5,"HDOP":1.35},{"t":10.01,"PDOP":2.7,"VDOP":2.35,"HDOP":1.34},{"t":10.06,"PDOP":2.73,"VDOP":2.4,"HDOP":1.34},{"t":10.10,"PDOP":2.76,"VDOP":2.44,"HDOP":1.33},{"t":10.15,"PDOP":3.55,"VDOP":3.3,"HDOP":1.6},{"t":10.16,"PDOP":2.8,"VDOP":2.5,"HDOP":1.33},{"t":10.20,"PDOP":2.82,"VDOP":2.53,"HDOP":1.33},{"t":10.24,"PDOP":3.7,"VDOP":3.45,"HDOP":1.55},{"t":10.25,"PDOP":2.84,"VDOP":2.56,"HDOP":1.32},{"t":10.29,"PDOP":2.85,"VDOP":2.58,"HDOP":1.32},{"t":10.32,"PDOP":3.9,"VDOP":3.6,"HDOP":1.65},{"t":10.33,"PDOP":2.85,"VDOP":2.58,"HDOP":1.32},{"t":10.38,"PDOP":2.85,"VDOP":2.58,"HDOP":1.31},{"t":10.42,"PDOP":2.84,"VDOP":2.56,"HDOP":1.31},{"t":10.46,"PDOP":4.0,"VDOP":3.7,"HDOP":1.55},{"t":10.47,"PDOP":2.82,"VDOP":2.55,"HDOP":1.3},{"t":10.48,"PDOP":3.9,"VDOP":3.65,"HDOP":1.3},{"t":10.49,"PDOP":2.8,"VDOP":2.52,"HDOP":1.3},{"t":10.53,"PDOP":2.78,"VDOP":2.5,"HDOP":1.3},{"t":10.57,"PDOP":2.75,"VDOP":2.46,"HDOP":1.29},{"t":10.60,"PDOP":3.85,"VDOP":3.6,"HDOP":1.45},{"t":10.61,"PDOP":2.72,"VDOP":2.43,"HDOP":1.29},{"t":10.63,"PDOP":2.3,"VDOP":2.0,"HDOP":1.45},{"t":10.64,"PDOP":3.8,"VDOP":3.55,"HDOP":1.3},{"t":10.65,"PDOP":2.7,"VDOP":2.4,"HDOP":1.42},{"t":10.67,"PDOP":2.25,"VDOP":1.95,"HDOP":1.3},{"t":10.68,"PDOP":3.75,"VDOP":3.5,"HDOP":1.4},{"t":10.69,"PDOP":2.68,"VDOP":2.38,"HDOP":1.28},{"t":10.71,"PDOP":2.2,"VDOP":1.95,"HDOP":1.4},{"t":10.72,"PDOP":3.65,"VDOP":3.45,"HDOP":1.28},{"t":10.73,"PDOP":2.65,"VDOP":2.35,"HDOP":1.38},{"t":10.75,"PDOP":2.15,"VDOP":1.9,"HDOP":1.27},{"t":10.76,"PDOP":3.6,"VDOP":3.4,"HDOP":1.4},{"t":10.77,"PDOP":2.6,"VDOP":2.3,"HDOP":1.27},{"t":10.79,"PDOP":2.1,"VDOP":1.85,"HDOP":1.38},{"t":10.80,"PDOP":3.5,"VDOP":3.3,"HDOP":1.27},{"t":10.81,"PDOP":2.55,"VDOP":2.25,"HDOP":1.4},{"t":10.83,"PDOP":2.05,"VDOP":1.8,"HDOP":1.27},{"t":10.84,"PDOP":3.45,"VDOP":3.25,"HDOP":1.38},{"t":10.85,"PDOP":2.5,"VDOP":2.2,"HDOP":1.26},{"t":10.87,"PDOP":2.0,"VDOP":1.75,"HDOP":1.38},{"t":10.88,"PDOP":3.4,"VDOP":3.2,"HDOP":1.26},{"t":10.89,"PDOP":2.45,"VDOP":2.15,"HDOP":1.35},{"t":10.91,"PDOP":1.95,"VDOP":1.7,"HDOP":1.26},{"t":10.92,"PDOP":3.3,"VDOP":3.1,"HDOP":1.35},{"t":10.93,"PDOP":2.4,"VDOP":2.05,"HDOP":1.25},{"t":10.95,"PDOP":2.15,"VDOP":1.8,"HDOP":1.18},
{"t":11.00,"PDOP":2.1,"VDOP":1.75,"HDOP":1.15},{"t":11.05,"PDOP":2.05,"VDOP":1.7,"HDOP":1.14},{"t":11.10,"PDOP":2.05,"VDOP":1.68,"HDOP":1.13},{"t":11.12,"PDOP":2.95,"VDOP":2.55,"HDOP":1.5},{"t":11.13,"PDOP":2.0,"VDOP":1.65,"HDOP":1.12},{"t":11.18,"PDOP":2.0,"VDOP":1.65,"HDOP":1.1},{"t":11.22,"PDOP":1.97,"VDOP":1.62,"HDOP":1.09},{"t":11.25,"PDOP":1.93,"VDOP":1.6,"HDOP":1.08}
]
},
"vconcat": [
 {
  "hconcat": [
   {
    "vconcat": [
     {"width": 415, "height": 137,
      "layer": [
       {"data": {"name": "satA"},
        "mark": {"type": "point", "shape": "cross", "filled": true, "size": 55, "color": "#808080", "opacity": 1},
        "encoding": {
         "x": {"field": "t", "type": "quantitative", "scale": {"domain": [7, 12], "nice": false}, "axis": {"values": [7, 8, 9, 10, 11, 12], "labels": false, "title": null}},
         "y": {"field": "n", "type": "quantitative", "scale": {"domain": [4, 14], "nice": false}, "axis": {"values": [4, 5, 6, 7, 8, 9, 10, 11, 12, 13, 14], "labelExpr": "datum.value % 2 == 1 ? '' : datum.label", "gridOpacity": {"condition": {"test": "datum.value % 2 == 1", "value": 0}, "value": 1}, "title": "# GPS-Satelliten"}}
        }},
       {"data": {"values": [{}]}, "mark": {"type": "point", "opacity": 0},
        "encoding": {
         "x": {"field": "t", "type": "quantitative", "scale": {"domain": [7, 12], "nice": false}, "axis": {"orient": "top", "values": [7, 8, 9, 10, 11, 12], "labels": false, "title": null, "grid": false}},
         "y": {"field": "n", "type": "quantitative", "scale": {"domain": [4, 14], "nice": false}, "axis": {"orient": "right", "values": [4, 5, 6, 7, 8, 9, 10, 11, 12, 13, 14], "labels": false, "title": null, "grid": false}}
        }}
      ],
      "resolve": {"axis": {"x": "independent", "y": "independent"}}},
     {"width": 415, "height": 136,
      "layer": [
       {"data": {"name": "dopA"},
        "transform": [{"fold": ["PDOP", "VDOP", "HDOP"], "as": ["s", "v"]}],
        "mark": {"type": "line", "strokeWidth": 2, "clip": true},
        "encoding": {
         "x": {"field": "t", "type": "quantitative", "scale": {"domain": [7, 12], "nice": false}, "axis": {"values": [7, 8, 9, 10, 11, 12], "title": "GPS-Zeit [Stunden]"}},
         "y": {"field": "v", "type": "quantitative", "scale": {"domain": [0, 6], "nice": false}, "axis": {"values": [0, 2, 4, 6], "title": "DOP"}},
         "color": {"field": "s", "type": "nominal", "scale": {"domain": ["PDOP", "VDOP", "HDOP"], "range": ["#D95319", "#0072BD", "#BFBF00"]}, "legend": {"title": null}}
        }},
       {"data": {"values": [{}]}, "mark": {"type": "point", "opacity": 0},
        "encoding": {
         "x": {"field": "t", "type": "quantitative", "scale": {"domain": [7, 12], "nice": false}, "axis": {"orient": "top", "values": [7, 8, 9, 10, 11, 12], "labels": false, "title": null, "grid": false}},
         "y": {"field": "v", "type": "quantitative", "scale": {"domain": [0, 6], "nice": false}, "axis": {"orient": "right", "values": [0, 2, 4, 6], "labels": false, "title": null, "grid": false}}
        }}
      ],
      "resolve": {"axis": {"x": "independent", "y": "independent"}},
      "title": {"text": "(a) HHDE - DOY96, 2016", "offset": 16.2, "dx": -41.4}}
    ],
    "spacing": 40.7,
    "resolve": {"scale": {"color": "independent"}, "legend": {"color": "independent"}}
   },
   {
    "vconcat": [
     {"width": 415, "height": 137,
      "layer": [
       {"data": {"name": "satB"},
        "mark": {"type": "point", "shape": "cross", "filled": true, "size": 55, "color": "#808080", "opacity": 1},
        "encoding": {
         "x": {"field": "t", "type": "quantitative", "scale": {"domain": [7, 12], "nice": false}, "axis": {"values": [7, 8, 9, 10, 11, 12], "labels": false, "title": null}},
         "y": {"field": "n", "type": "quantitative", "scale": {"domain": [4, 14], "nice": false}, "axis": {"values": [4, 5, 6, 7, 8, 9, 10, 11, 12, 13, 14], "labelExpr": "datum.value % 2 == 1 ? '' : datum.label", "gridOpacity": {"condition": {"test": "datum.value % 2 == 1", "value": 0}, "value": 1}, "title": "# GPS-Satelliten"}}
        }},
       {"data": {"values": [{}]}, "mark": {"type": "point", "opacity": 0},
        "encoding": {
         "x": {"field": "t", "type": "quantitative", "scale": {"domain": [7, 12], "nice": false}, "axis": {"orient": "top", "values": [7, 8, 9, 10, 11, 12], "labels": false, "title": null, "grid": false}},
         "y": {"field": "n", "type": "quantitative", "scale": {"domain": [4, 14], "nice": false}, "axis": {"orient": "right", "values": [4, 5, 6, 7, 8, 9, 10, 11, 12, 13, 14], "labels": false, "title": null, "grid": false}}
        }}
      ],
      "resolve": {"axis": {"x": "independent", "y": "independent"}}},
     {"width": 415, "height": 136,
      "layer": [
       {"data": {"name": "dopB"},
        "transform": [{"fold": ["PDOP", "VDOP", "HDOP"], "as": ["s", "v"]}],
        "mark": {"type": "line", "strokeWidth": 2, "clip": true},
        "encoding": {
         "x": {"field": "t", "type": "quantitative", "scale": {"domain": [7, 12], "nice": false}, "axis": {"values": [7, 8, 9, 10, 11, 12], "title": "GPS-Zeit [hours]"}},
         "y": {"field": "v", "type": "quantitative", "scale": {"domain": [0, 6], "nice": false}, "axis": {"values": [0, 2, 4, 6], "title": "DOP"}},
         "color": {"field": "s", "type": "nominal", "scale": {"domain": ["PDOP", "VDOP", "HDOP"], "range": ["#D95319", "#0072BD", "#BFBF00"]}, "legend": {"title": null}}
        }},
       {"data": {"values": [{}]}, "mark": {"type": "point", "opacity": 0},
        "encoding": {
         "x": {"field": "t", "type": "quantitative", "scale": {"domain": [7, 12], "nice": false}, "axis": {"orient": "top", "values": [7, 8, 9, 10, 11, 12], "labels": false, "title": null, "grid": false}},
         "y": {"field": "v", "type": "quantitative", "scale": {"domain": [0, 6], "nice": false}, "axis": {"orient": "right", "values": [0, 2, 4, 6], "labels": false, "title": null, "grid": false}}
        }}
      ],
      "resolve": {"axis": {"x": "independent", "y": "independent"}},
      "title": {"text": "(b) HH03 - DOY96, 2016", "offset": 16.2, "dx": -41}}
    ],
    "spacing": 40.7,
    "resolve": {"scale": {"color": "independent"}, "legend": {"color": "independent"}}
   }
  ],
  "spacing": 16.3,
  "resolve": {"scale": {"color": "independent"}, "legend": {"color": "independent"}}
 },
 {
  "hconcat": [
   {
    "vconcat": [
     {"width": 411.6, "height": 136,
      "layer": [
       {"data": {"name": "satA"},
        "mark": {"type": "point", "shape": "cross", "filled": true, "size": 55, "color": "#808080", "opacity": 1},
        "encoding": {
         "x": {"field": "t", "type": "quantitative", "scale": {"domain": [7, 12], "nice": false}, "axis": {"values": [7, 8, 9, 10, 11, 12], "labels": false, "title": null}},
         "y": {"field": "n", "type": "quantitative", "scale": {"domain": [4, 14], "nice": false}, "axis": {"values": [4, 5, 6, 7, 8, 9, 10, 11, 12, 13, 14], "labelExpr": "datum.value % 2 == 1 ? '' : datum.label", "gridOpacity": {"condition": {"test": "datum.value % 2 == 1", "value": 0}, "value": 1}, "title": "# GPS-Satelliten"}}
        }},
       {"data": {"values": [{}]}, "mark": {"type": "point", "opacity": 0},
        "encoding": {
         "x": {"field": "t", "type": "quantitative", "scale": {"domain": [7, 12], "nice": false}, "axis": {"orient": "top", "values": [7, 8, 9, 10, 11, 12], "labels": false, "title": null, "grid": false}},
         "y": {"field": "n", "type": "quantitative", "scale": {"domain": [4, 14], "nice": false}, "axis": {"orient": "right", "values": [4, 5, 6, 7, 8, 9, 10, 11, 12, 13, 14], "labels": false, "title": null, "grid": false}}
        }}
      ],
      "resolve": {"axis": {"x": "independent", "y": "independent"}}},
     {"width": 411.6, "height": 135,
      "layer": [
       {"data": {"name": "dopC"},
        "transform": [{"fold": ["PDOP", "VDOP", "HDOP"], "as": ["s", "v"]}],
        "mark": {"type": "line", "strokeWidth": 2, "clip": true},
        "encoding": {
         "x": {"field": "t", "type": "quantitative", "scale": {"domain": [7, 12], "nice": false}, "axis": {"values": [7, 8, 9, 10, 11, 12], "title": "GPS-Zeit [Stunden]"}},
         "y": {"field": "v", "type": "quantitative", "scale": {"domain": [0, 6], "nice": false}, "axis": {"values": [0, 2, 4, 6], "title": "DOP"}},
         "color": {"field": "s", "type": "nominal", "scale": {"domain": ["PDOP", "VDOP", "HDOP"], "range": ["#D95319", "#0072BD", "#BFBF00"]}, "legend": {"title": null}}
        }},
       {"data": {"values": [{}]}, "mark": {"type": "point", "opacity": 0},
        "encoding": {
         "x": {"field": "t", "type": "quantitative", "scale": {"domain": [7, 12], "nice": false}, "axis": {"orient": "top", "values": [7, 8, 9, 10, 11, 12], "labels": false, "title": null, "grid": false}},
         "y": {"field": "v", "type": "quantitative", "scale": {"domain": [0, 6], "nice": false}, "axis": {"orient": "right", "values": [0, 2, 4, 6], "labels": false, "title": null, "grid": false}}
        }}
      ],
      "resolve": {"axis": {"x": "independent", "y": "independent"}},
      "title": {"text": "(c) HHDE - DOY98, 2016", "offset": 23.5, "dx": -43.4}}
    ],
    "spacing": 37.9,
    "resolve": {"scale": {"color": "independent"}, "legend": {"color": "independent"}}
   },
   {
    "vconcat": [
     {"width": 411, "height": 136,
      "layer": [
       {"data": {"name": "satB"},
        "mark": {"type": "point", "shape": "cross", "filled": true, "size": 55, "color": "#808080", "opacity": 1},
        "encoding": {
         "x": {"field": "t", "type": "quantitative", "scale": {"domain": [7, 12], "nice": false}, "axis": {"values": [7, 8, 9, 10, 11, 12], "labels": false, "title": null}},
         "y": {"field": "n", "type": "quantitative", "scale": {"domain": [4, 14], "nice": false}, "axis": {"values": [4, 5, 6, 7, 8, 9, 10, 11, 12, 13, 14], "labelExpr": "datum.value % 2 == 1 ? '' : datum.label", "gridOpacity": {"condition": {"test": "datum.value % 2 == 1", "value": 0}, "value": 1}, "title": "# GPS-Satelliten"}}
        }},
       {"data": {"values": [{}]}, "mark": {"type": "point", "opacity": 0},
        "encoding": {
         "x": {"field": "t", "type": "quantitative", "scale": {"domain": [7, 12], "nice": false}, "axis": {"orient": "top", "values": [7, 8, 9, 10, 11, 12], "labels": false, "title": null, "grid": false}},
         "y": {"field": "n", "type": "quantitative", "scale": {"domain": [4, 14], "nice": false}, "axis": {"orient": "right", "values": [4, 5, 6, 7, 8, 9, 10, 11, 12, 13, 14], "labels": false, "title": null, "grid": false}}
        }}
      ],
      "resolve": {"axis": {"x": "independent", "y": "independent"}}},
     {"width": 411, "height": 135,
      "layer": [
       {"data": {"name": "dopD"},
        "transform": [{"fold": ["PDOP", "VDOP", "HDOP"], "as": ["s", "v"]}],
        "mark": {"type": "line", "strokeWidth": 2, "clip": true},
        "encoding": {
         "x": {"field": "t", "type": "quantitative", "scale": {"domain": [7, 12], "nice": false}, "axis": {"values": [7, 8, 9, 10, 11, 12], "title": "GPS-Zeit [Stunden]"}},
         "y": {"field": "v", "type": "quantitative", "scale": {"domain": [0, 6], "nice": false}, "axis": {"values": [0, 2, 4, 6], "title": "DOP"}},
         "color": {"field": "s", "type": "nominal", "scale": {"domain": ["PDOP", "VDOP", "HDOP"], "range": ["#D95319", "#0072BD", "#BFBF00"]}, "legend": {"title": null}}
        }},
       {"data": {"values": [{}]}, "mark": {"type": "point", "opacity": 0},
        "encoding": {
         "x": {"field": "t", "type": "quantitative", "scale": {"domain": [7, 12], "nice": false}, "axis": {"orient": "top", "values": [7, 8, 9, 10, 11, 12], "labels": false, "title": null, "grid": false}},
         "y": {"field": "v", "type": "quantitative", "scale": {"domain": [0, 6], "nice": false}, "axis": {"orient": "right", "values": [0, 2, 4, 6], "labels": false, "title": null, "grid": false}}
        }}
      ],
      "resolve": {"axis": {"x": "independent", "y": "independent"}},
      "title": {"text": "(d) HH03 - DOY98, 2016", "offset": 23.5, "dx": -44.3}}
    ],
    "spacing": 37.9,
    "resolve": {"scale": {"color": "independent"}, "legend": {"color": "independent"}}
   }
  ],
  "spacing": 21.2,
  "resolve": {"scale": {"color": "independent"}, "legend": {"color": "independent"}}
 }
],
"spacing": 13.5,
"resolve": {"scale": {"color": "independent"}, "legend": {"color": "independent"}}
}
